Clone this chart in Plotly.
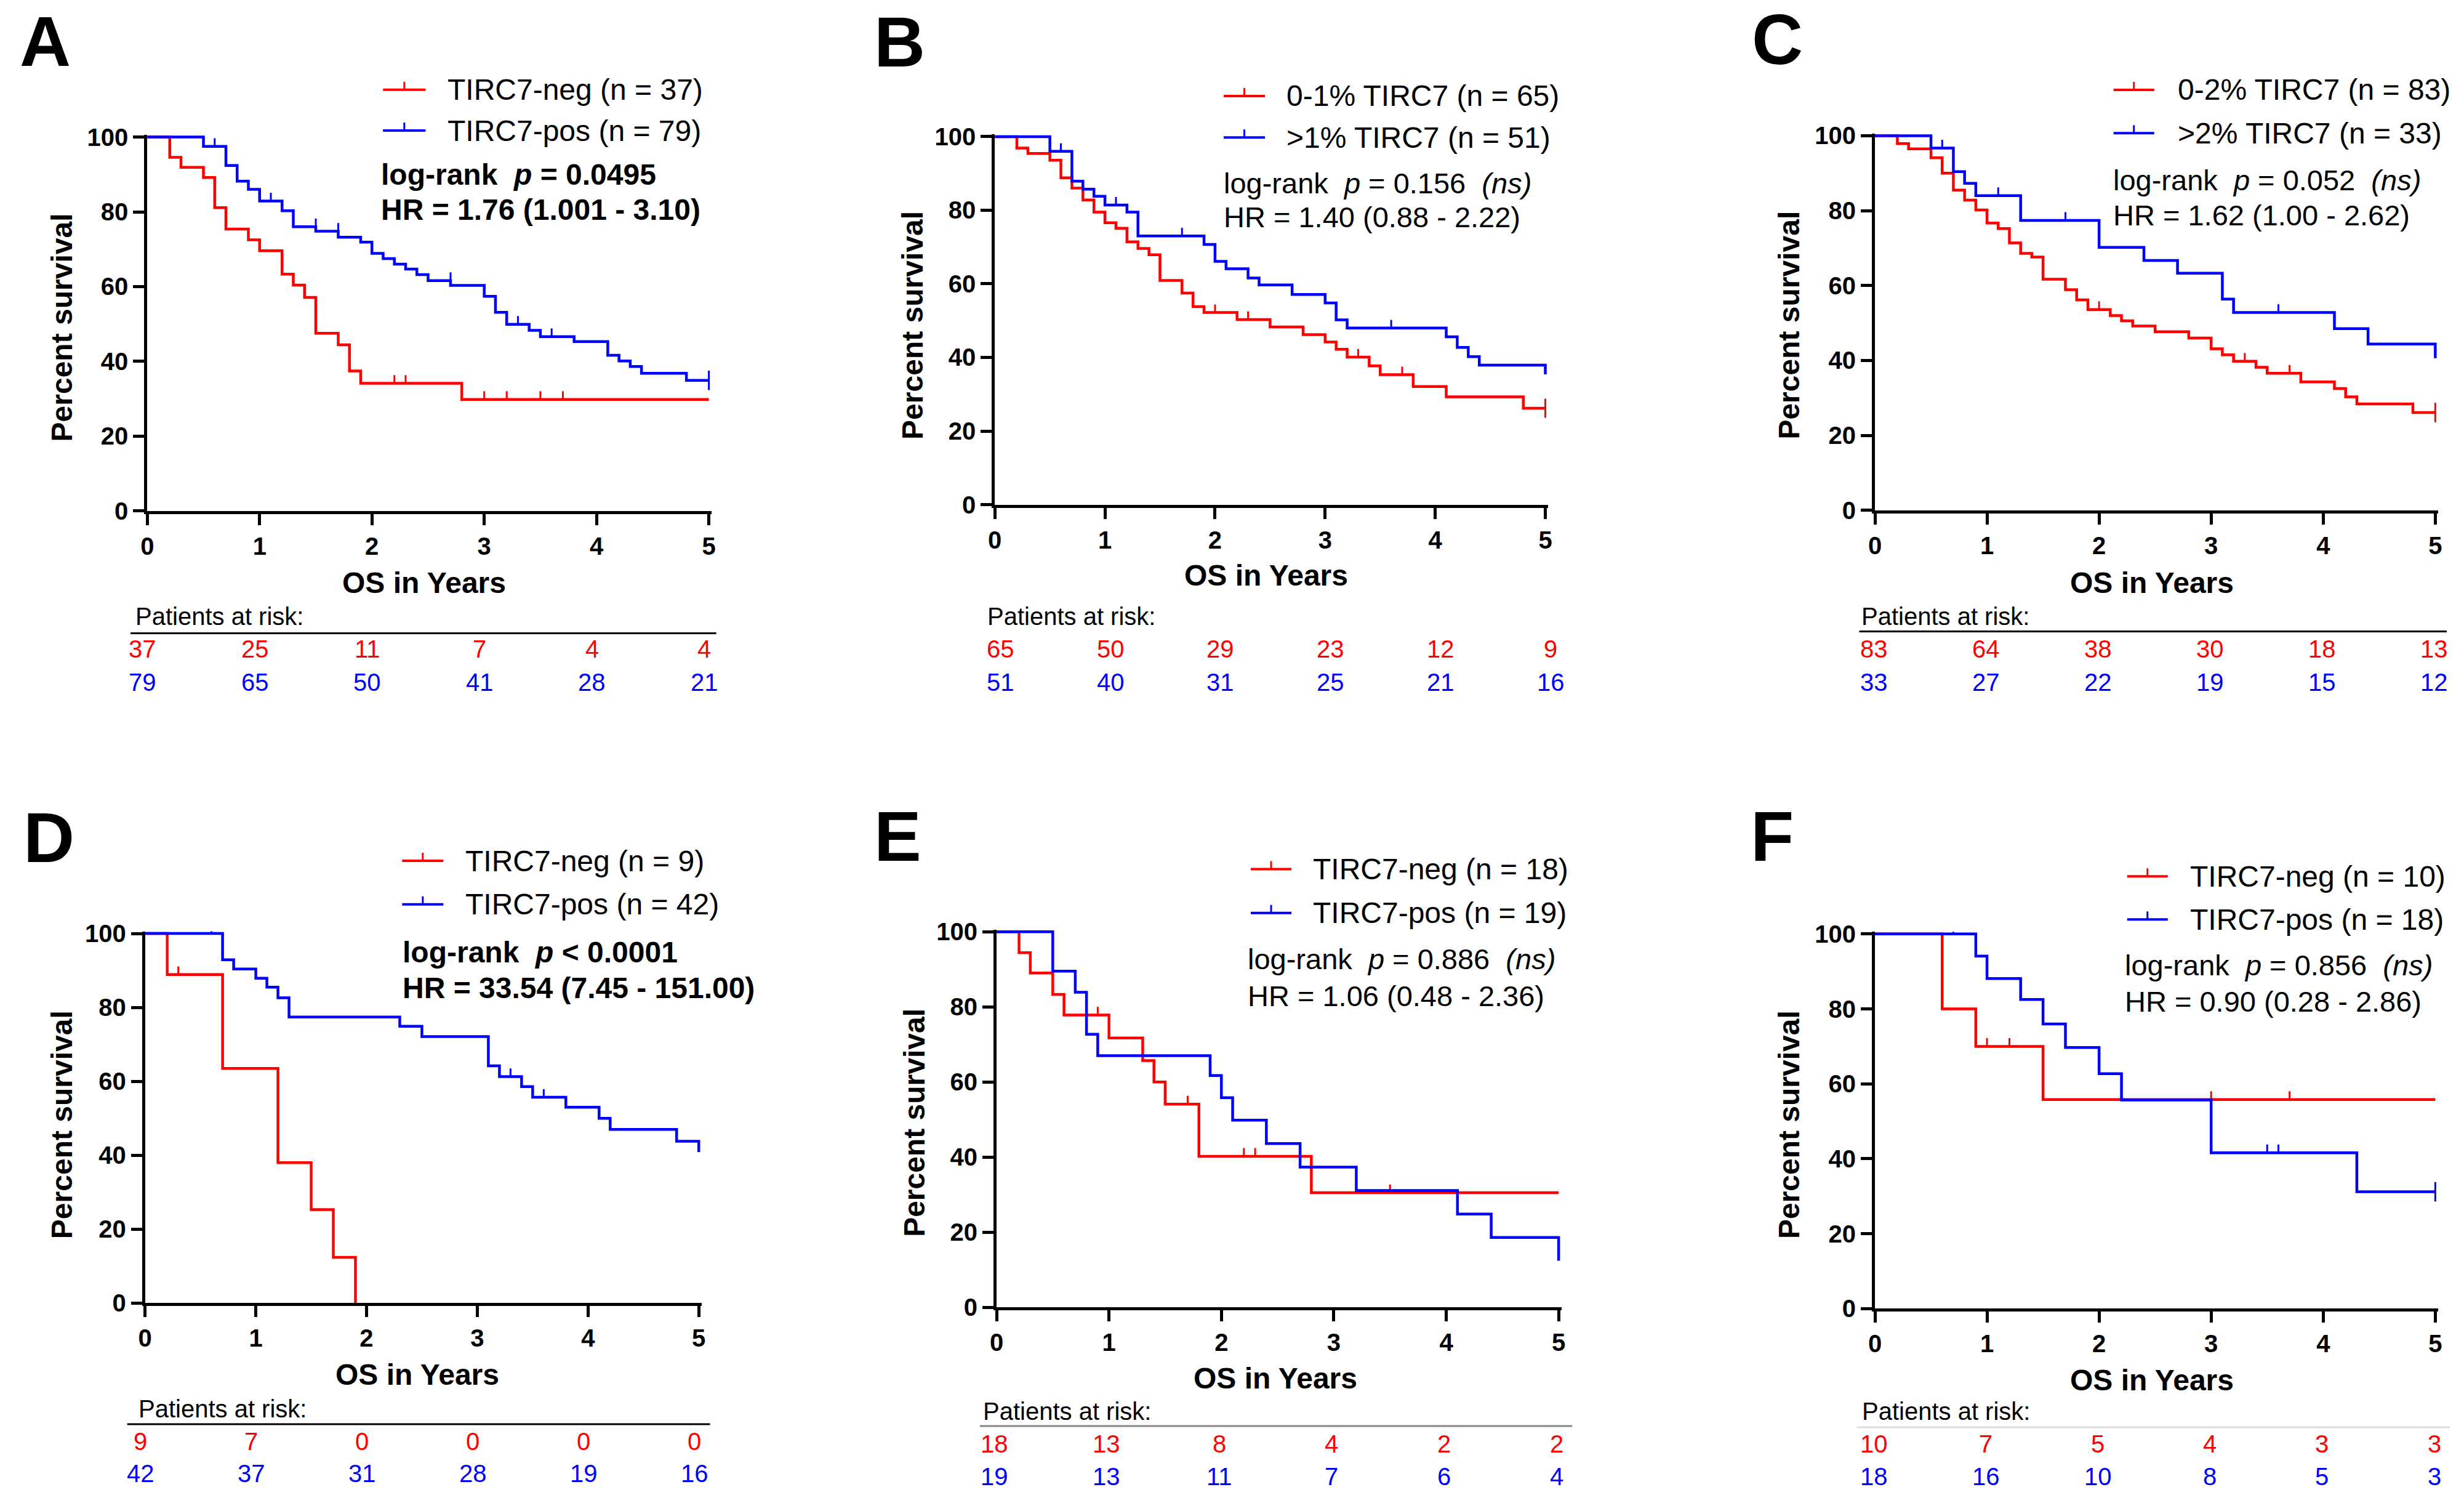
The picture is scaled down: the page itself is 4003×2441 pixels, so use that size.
import plotly.graph_objects as go

FONT = "Liberation Sans, Arial, sans-serif"
RED = "#FF0000"
BLUE = "#0000FF"

# ---------------- data ----------------
YEARS = [0, 1, 2, 3, 4, 5]

# Panel A
A_NEG_TIME = [0.2, 0.3, 0.5, 0.6, 0.7, 0.9, 1.0, 1.2, 1.3, 1.4, 1.5, 1.7, 1.8, 1.9, 2.8]
A_NEG_SURV = [94.6, 91.9, 89.2, 81.1, 75.4, 72.5, 69.6, 63.3, 60.4, 57.1, 47.5, 44.4, 37.4, 34.1, 29.8]
A_NEG_CENS = [2.2, 2.3, 3.0, 3.2, 3.5, 3.7]
A_POS_TIME = [0.5, 0.7, 0.8, 0.9, 1.0, 1.2, 1.3, 1.5, 1.7, 1.9, 2.0, 2.1, 2.2, 2.3, 2.4, 2.5, 2.7,
              3.0, 3.1, 3.2, 3.4, 3.5, 3.8, 4.1, 4.2, 4.3, 4.4, 4.8]
A_POS_SURV = [97.5, 92.4, 88.2, 86.0, 82.9, 80.3, 76.0, 74.8, 73.2, 71.9, 68.9, 67.5, 66.0, 64.7, 63.2,
              61.6, 60.3, 57.4, 53.1, 49.9, 48.3, 46.6, 45.3, 41.6, 40.1, 38.6, 36.8, 34.9]
A_POS_CENS = [0.6, 1.1, 1.5, 1.7, 2.7, 3.3, 3.6, 5.0]
A_RISK_NEG = [37, 25, 11, 7, 4, 4]
A_RISK_POS = [79, 65, 50, 41, 28, 21]

# Panel B
B_LOW_TIME = [0.2, 0.3, 0.5, 0.6, 0.7, 0.8, 0.9, 1.0, 1.1, 1.2, 1.3, 1.4, 1.5, 1.7, 1.8, 1.9, 2.2,
              2.5, 2.8, 3.0, 3.1, 3.2, 3.4, 3.5, 3.8, 4.1, 4.8]
B_LOW_SURV = [96.9, 95.4, 93.6, 88.8, 86.0, 82.8, 79.5, 76.6, 75.1, 71.4, 69.6, 67.9, 60.9, 57.5, 53.8,
              52.2, 50.3, 48.3, 46.2, 44.2, 42.2, 40.1, 37.7, 35.3, 32.1, 29.3, 26.2]
B_LOW_CENS = [2.0, 2.3, 3.3, 3.7, 5.0]
B_HIGH_TIME = [0.5, 0.7, 0.8, 0.9, 1.0, 1.2, 1.3, 1.9, 2.0, 2.1, 2.3, 2.4, 2.7, 3.0, 3.1, 3.2,
               4.1, 4.2, 4.3, 4.4, 5.0]
B_HIGH_SURV = [96.0, 87.9, 85.7, 83.8, 81.4, 79.5, 73.0, 70.7, 66.1, 64.1, 61.6, 59.7, 57.1, 54.8,
               50.2, 48.0, 45.6, 42.7, 40.2, 37.9, 35.4]
B_HIGH_CENS = [0.6, 1.1, 1.7, 3.6]
B_RISK_LOW = [65, 50, 29, 23, 12, 9]
B_RISK_HIGH = [51, 40, 31, 25, 21, 16]

# Panel C
C_LOW_TIME = [0.2, 0.3, 0.5, 0.6, 0.7, 0.8, 0.9, 1.0, 1.1, 1.2, 1.3, 1.4, 1.5, 1.7, 1.8, 1.9, 2.1,
              2.2, 2.3, 2.5, 2.8, 3.0, 3.1, 3.2, 3.4, 3.5, 3.8, 4.1, 4.2, 4.3, 4.8]
C_LOW_SURV = [97.9, 96.5, 94.1, 90.0, 85.5, 82.8, 80.2, 76.7, 75.2, 71.4, 68.6, 67.6, 61.7, 58.9,
              56.2, 53.6, 52.0, 50.6, 49.2, 47.7, 46.0, 43.1, 41.5, 39.8, 38.2, 36.6, 34.3, 32.5,
              30.3, 28.4, 26.1]
C_LOW_CENS = [2.0, 3.3, 3.7, 5.0]
C_HIGH_TIME = [0.5, 0.7, 0.8, 0.9, 1.3, 2.0, 2.4, 2.7, 3.1, 3.2, 4.1, 4.4, 5.0]
C_HIGH_SURV = [96.7, 90.4, 87.3, 84.0, 77.4, 70.2, 66.7, 63.3, 56.4, 52.8, 48.5, 44.4, 40.6]
C_HIGH_CENS = [0.6, 1.1, 1.7, 3.6]
C_RISK_LOW = [83, 64, 38, 30, 18, 13]
C_RISK_HIGH = [33, 27, 22, 19, 15, 12]

# Panel D
D_NEG_TIME = [0.2, 0.7, 1.2, 1.5, 1.7, 1.9]
D_NEG_SURV = [88.9, 63.5, 38.0, 25.3, 12.4, 0.0]
D_NEG_CENS = [0.3]
D_POS_TIME = [0.7, 0.8, 1.0, 1.1, 1.2, 1.3, 2.3, 2.5, 3.1, 3.2, 3.4, 3.5, 3.8, 4.1, 4.2, 4.8, 5.0]
D_POS_SURV = [92.9, 90.4, 87.9, 85.5, 82.6, 77.4, 74.9, 72.1, 64.2, 61.3, 58.6, 55.7, 53.0, 50.0,
              47.0, 43.8, 40.9]
D_POS_CENS = [0.6, 3.3, 3.6]
D_RISK_NEG = [9, 7, 0, 0, 0, 0]
D_RISK_POS = [42, 37, 31, 28, 19, 16]

# Panel E
E_NEG_TIME = [0.2, 0.3, 0.5, 0.6, 1.0, 1.3, 1.4, 1.5, 1.8, 2.8]
E_NEG_SURV = [94.4, 89.0, 83.3, 77.8, 71.7, 65.7, 60.0, 54.1, 40.2, 30.5]
E_NEG_CENS = [0.9, 1.7, 2.2, 2.3, 3.2, 3.5]
E_POS_TIME = [0.5, 0.7, 0.8, 0.9, 1.9, 2.0, 2.1, 2.4, 2.7, 3.2, 4.1, 4.4, 5.0]
E_POS_SURV = [89.5, 83.9, 72.7, 67.0, 61.7, 55.8, 49.8, 43.6, 37.3, 31.1, 24.8, 18.6, 12.4]
E_POS_CENS = []
E_RISK_NEG = [18, 13, 8, 4, 2, 2]
E_RISK_POS = [19, 13, 11, 7, 6, 4]

# Panel F
F_NEG_TIME = [0.6, 0.9, 1.5]
F_NEG_SURV = [80.0, 70.0, 55.8]
F_NEG_CENS = [1.0, 1.2, 3.0, 3.7]
F_POS_TIME = [0.9, 1.0, 1.3, 1.5, 1.7, 2.0, 2.2, 3.0, 4.3]
F_POS_SURV = [94.1, 88.1, 82.5, 76.0, 69.7, 62.7, 55.7, 41.6, 31.2]
F_POS_CENS = [0.7, 3.5, 3.6, 5.0]
F_RISK_NEG = [10, 7, 5, 4, 3, 3]
F_RISK_POS = [18, 16, 10, 8, 5, 3]

# ---------------- layout helpers ----------------
W, H = 4003, 2441
# small correction for the way the page is captured (content appears slightly shrunk about the centre)
AX, AY = 0.995, 0.981
CX, CY = W / 2.0, H / 2.0
X_MAX, Y_MAX = 5.025, 100.6      # a little headroom so edge lines are not clipped


def px_x(v):
    return (CX + (v - CX) / AX) / W


def px_y(v):
    return 1 - (CY + (v - CY) / AY) / H


def dom_x(d):
    x0, x5 = d[0] * W, d[1] * W
    return [px_x(x0), px_x(x0 + (x5 - x0) * X_MAX / 5.0)]


def dom_y(d):
    y0, y100 = (1 - d[0]) * H, (1 - d[1]) * H
    return [px_y(y0), px_y(y0 - (y0 - y100) * Y_MAX / 100.0)]


def km_points(times, surv, cens, end=5.0):
    events = [(t, 1, s) for t, s in zip(times, surv)] + [(t, 0, None) for t in cens]
    events.sort(key=lambda e: (e[0], e[1]))
    xs, ys = [0.0], [100.0]
    cx, cy = [], []
    cur = 100.0
    for t, kind, s in events:
        if kind == 1:
            cur = s
            xs.append(t); ys.append(cur)
        else:
            xs.append(t); ys.append(cur)
            cx.append(t); cy.append(cur)
    if xs[-1] < end and cur > 0:
        xs.append(end); ys.append(cur)
    return xs, ys, cx, cy


panels = [
    dict(key="A", xd=[0.0595, 0.2873], yd=[0.6589, 0.9069],
         curves=[("TIRC7-neg (n = 37)", RED, A_NEG_TIME, A_NEG_SURV, A_NEG_CENS),
                 ("TIRC7-pos (n = 79)", BLUE, A_POS_TIME, A_POS_SURV, A_POS_CENS)],
         risk=[A_RISK_NEG, A_RISK_POS], risk_off=-0.04,
         stats=["log-rank\u00a0\u00a0<i>p</i> = 0.0495", "HR = 1.76 (1.001 - 3.10)"], bold=True,
         letter=(29, 72), leg=(621, 690, 150.7, 216.7, 724), stat_pos=(616, 288, 345),
         ytitle=(99.5, 535.7), xtitle=(688, 949),
         risk_pos=(217, 1004, 1056, 1110), rline=(211, 1162, 1031, "black")),
    dict(key="B", xd=[0.4033, 0.6266], yd=[0.6630, 0.9072],
         curves=[("0-1% TIRC7 (n = 65)", RED, B_LOW_TIME, B_LOW_SURV, B_LOW_CENS),
                 (">1% TIRC7 (n = 51)", BLUE, B_HIGH_TIME, B_HIGH_SURV, B_HIGH_CENS)],
         risk=[B_RISK_LOW, B_RISK_HIGH], risk_off=0.05,
         stats=["log-rank\u00a0\u00a0<i>p</i> = 0.156\u00a0\u00a0<i>(ns)</i>", "HR = 1.40 (0.88 - 2.22)"], bold=False,
         letter=(1416, 73), leg=(1986, 2053, 160.7, 228, 2086), stat_pos=(1984, 302, 357),
         ytitle=(1480, 532), xtitle=(2055, 937.5),
         risk_pos=(1600, 1004, 1056, 1110), rline=None),
    dict(key="C", xd=[0.7603, 0.9876], yd=[0.6592, 0.9078],
         curves=[("0-2% TIRC7 (n = 83)", RED, C_LOW_TIME, C_LOW_SURV, C_LOW_CENS),
                 (">2% TIRC7 (n = 33)", BLUE, C_HIGH_TIME, C_HIGH_SURV, C_HIGH_CENS)],
         risk=[C_RISK_LOW, C_RISK_HIGH], risk_off=-0.01,
         stats=["log-rank\u00a0\u00a0<i>p</i> = 0.052\u00a0\u00a0<i>(ns)</i>", "HR = 1.62 (1.00 - 2.62)"], bold=False,
         letter=(2842, 69), leg=(3431, 3497, 150.8, 221, 3533), stat_pos=(3428, 297, 353.6),
         ytitle=(2904, 532), xtitle=(3493, 949),
         risk_pos=(3019, 1004, 1056, 1110), rline=(3018, 3972, 1028, "black")),
    dict(key="D", xd=[0.0586, 0.2832], yd=[0.1331, 0.3784],
         curves=[("TIRC7-neg (n = 9)", RED, D_NEG_TIME, D_NEG_SURV, D_NEG_CENS),
                 ("TIRC7-pos (n = 42)", BLUE, D_POS_TIME, D_POS_SURV, D_POS_CENS)],
         risk=[D_RISK_NEG, D_RISK_POS], risk_off=-0.04,
         stats=["log-rank\u00a0\u00a0<i>p</i> &lt; 0.0001", "HR = 33.54 (7.45 - 151.00)"], bold=True,
         letter=(35, 1362), leg=(652, 719, 1399.6, 1470, 753), stat_pos=(651, 1547.8, 1605.5),
         ytitle=(99.5, 1827), xtitle=(677, 2232),
         risk_pos=(222, 2287, 2340, 2391.7), rline=(205.6, 1152, 2312, "black")),
    dict(key="E", xd=[0.404, 0.632], yd=[0.1304, 0.3796],
         curves=[("TIRC7-neg (n = 18)", RED, E_NEG_TIME, E_NEG_SURV, E_NEG_CENS),
                 ("TIRC7-pos (n = 19)", BLUE, E_POS_TIME, E_POS_SURV, E_POS_CENS)],
         risk=[E_RISK_NEG, E_RISK_POS], risk_off=-0.02,
         stats=["log-rank\u00a0\u00a0<i>p</i> = 0.886\u00a0\u00a0<i>(ns)</i>", "HR = 1.06 (0.48 - 2.36)"], bold=False,
         letter=(1416, 1360), leg=(2030, 2096, 1413, 1484, 2129), stat_pos=(2023, 1559, 1618),
         ytitle=(1483, 1823.5), xtitle=(2070, 2237.5),
         risk_pos=(1593, 2290.7, 2344, 2397), rline=(1590, 2552, 2315, "#888888")),
    dict(key="F", xd=[0.7603, 0.9876], yd=[0.1295, 0.3781],
         curves=[("TIRC7-neg (n = 10)", RED, F_NEG_TIME, F_NEG_SURV, F_NEG_CENS),
                 ("TIRC7-pos (n = 18)", BLUE, F_POS_TIME, F_POS_SURV, F_POS_CENS)],
         risk=[F_RISK_NEG, F_RISK_POS], risk_off=-0.01,
         stats=["log-rank\u00a0\u00a0<i>p</i> = 0.856\u00a0\u00a0<i>(ns)</i>", "HR = 0.90 (0.28 - 2.86)"], bold=False,
         letter=(2840, 1360), leg=(3453, 3519, 1424.7, 1494.6, 3553), stat_pos=(3447.5, 1569, 1627.5),
         ytitle=(2904, 1827), xtitle=(3493, 2241),
         risk_pos=(3020, 2290.7, 2344, 2397), rline=(3014, 3977, 2317, "#dddddd")),
]

fig = go.Figure()
annotations = []
shapes = []
layout = {}

for i, p in enumerate(panels):
    n = "" if i == 0 else str(i + 1)
    xa, ya = "x" + n, "y" + n
    for name, color, t, s, c in p["curves"]:
        xs, ys, cx, cy = km_points(t, s, c)
        fig.add_trace(go.Scatter(
            x=xs, y=ys, mode="lines", name=name, showlegend=False,
            line=dict(color=color, width=4.5, shape="hv"),
            xaxis=xa, yaxis=ya, cliponaxis=False, hoverinfo="skip",
        ))
        if cx:
            # censor marks: short upward ticks (centred tick at the 5-year end)
            up = [2.6 if tt >= 5.0 else 2.2 for tt in cx]
            down = [2.6 if tt >= 5.0 else 0.0 for tt in cx]
            fig.add_trace(go.Scatter(
                x=cx, y=cy, mode="markers", name=name + " censored", showlegend=False,
                marker=dict(size=1, color=color, opacity=0),
                error_y=dict(type="data", symmetric=False, array=up, arrayminus=down,
                             color=color, thickness=3, width=0),
                xaxis=xa, yaxis=ya, cliponaxis=False, hoverinfo="skip",
            ))
    axis_common = dict(showline=True, linewidth=5, linecolor="black", ticks="outside",
                       ticklen=18, tickwidth=5, tickcolor="black", showgrid=False,
                       zeroline=False,
                       tickfont=dict(family=FONT, size=40, color="black", weight="bold"))
    layout["xaxis" + n] = dict(domain=dom_x(p["xd"]), range=[0, X_MAX], tickvals=YEARS,
                               anchor=ya, **axis_common)
    layout["yaxis" + n] = dict(domain=dom_y(p["yd"]), range=[0, Y_MAX], tickvals=[0, 20, 40, 60, 80, 100],
                               anchor=xa, **axis_common)

    # legend (key line with censor tick + label)
    lx0, lx1, ly_red, ly_blue, ltx = p["leg"]
    for (name, color, _, _, _), ly in zip(p["curves"], [ly_red, ly_blue]):
        shapes.append(dict(type="line", xref="paper", yref="paper",
                           x0=px_x(lx0), x1=px_x(lx1), y0=px_y(ly), y1=px_y(ly),
                           line=dict(color=color, width=4)))
        xm = (lx0 + lx1) / 2
        shapes.append(dict(type="line", xref="paper", yref="paper",
                           x0=px_x(xm), x1=px_x(xm), y0=px_y(ly), y1=px_y(ly - 13),
                           line=dict(color=color, width=3)))
        annotations.append(dict(text=name, x=px_x(ltx), y=px_y(ly), xref="paper", yref="paper",
                                xanchor="left", yanchor="middle", showarrow=False,
                                font=dict(family=FONT, size=48, color="black")))

    # panel letter
    annotations.append(dict(text="<b>%s</b>" % p["key"], x=px_x(p["letter"][0]), y=px_y(p["letter"][1]),
                            xref="paper", yref="paper", xanchor="left", yanchor="middle",
                            showarrow=False, font=dict(family=FONT, size=115, color="black")))
    # statistics
    sx, sy1, sy2 = p["stat_pos"]
    for txt, sy in zip(p["stats"], [sy1, sy2]):
        annotations.append(dict(text=("<b>%s</b>" % txt) if p["bold"] else txt,
                                x=px_x(sx), y=px_y(sy), xref="paper", yref="paper",
                                xanchor="left", yanchor="middle", showarrow=False,
                                font=dict(family=FONT, size=48 if p["bold"] else 47, color="black")))
    # axis titles
    annotations.append(dict(text="<b>Percent survival</b>", x=px_x(p["ytitle"][0]), y=px_y(p["ytitle"][1]),
                            xref="paper", yref="paper", xanchor="center", yanchor="middle",
                            textangle=-90, showarrow=False,
                            font=dict(family=FONT, size=48, color="black")))
    annotations.append(dict(text="<b>OS in Years</b>", x=px_x(p["xtitle"][0]), y=px_y(p["xtitle"][1]),
                            xref="paper", yref="paper", xanchor="center", yanchor="middle",
                            showarrow=False, font=dict(family=FONT, size=48, color="black")))
    # patients at risk
    rx, ry_head, ry_red, ry_blue = p["risk_pos"]
    annotations.append(dict(text="Patients at risk:", x=px_x(rx), y=px_y(ry_head),
                            xref="paper", yref="paper", xanchor="left", yanchor="middle",
                            showarrow=False, font=dict(family=FONT, size=40, color="black")))
    d0, d1 = p["xd"]
    for vals, color, ry in [(p["risk"][0], RED, ry_red), (p["risk"][1], BLUE, ry_blue)]:
        for yr, v in zip(YEARS, vals):
            xref_px = (d0 + (yr + p["risk_off"]) / 5.0 * (d1 - d0)) * W
            annotations.append(dict(text=str(v), x=px_x(xref_px), y=px_y(ry),
                                    xref="paper", yref="paper", xanchor="center", yanchor="middle",
                                    showarrow=False, font=dict(family=FONT, size=40, color=color)))
    if p["rline"]:
        x0, x1, yl, col = p["rline"]
        shapes.append(dict(type="line", xref="paper", yref="paper", x0=px_x(x0), x1=px_x(x1),
                           y0=px_y(yl), y1=px_y(yl), line=dict(color=col, width=3)))

fig.update_layout(
    width=W, height=H, autosize=False,
    margin=dict(l=0, r=0, t=0, b=0),
    paper_bgcolor="white", plot_bgcolor="white",
    font=dict(family=FONT, color="black"),
    annotations=annotations, shapes=shapes, showlegend=False,
    **layout,
)

fig.write_html(
    "out.html",
    config={"displayModeBar": False},
    post_script="document.body.style.margin='0';document.body.style.overflow='hidden';"
                "document.documentElement.style.overflow='hidden';",
)
